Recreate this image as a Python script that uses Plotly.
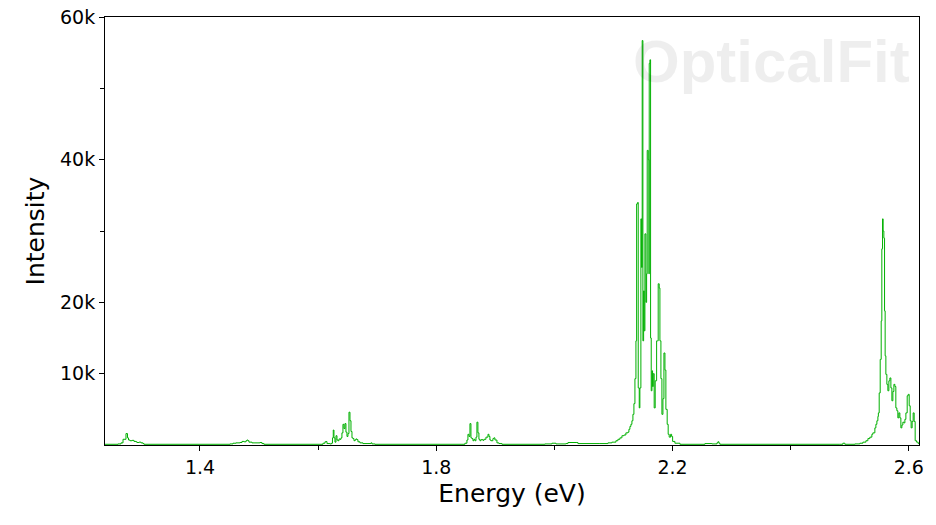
import plotly.graph_objects as go

# ---- data (energy in eV, intensity in counts) ----
start_ev = [1.2300]
start_counts = [100]

band1_ev = [1.2612, 1.2663, 1.2697, 1.2747, 1.2773, 1.2790, 1.2815, 1.2849, 1.2883,
            1.2917, 1.2934, 1.2967, 1.3001, 1.3035, 1.3052]
band1_counts = [150, 300, 800, 1600, 1000, 700, 600, 650, 500, 450, 350, 400, 300, 200, 100]

band2_ev = [1.4508, 1.4559, 1.4609, 1.4677, 1.4711, 1.4745, 1.4779, 1.4795, 1.4812,
            1.4829, 1.4880, 1.4931, 1.4982, 1.5015, 1.5049, 1.5083]
band2_counts = [150, 250, 300, 350, 500, 450, 600, 700, 600, 400, 300, 300, 300, 350, 200, 100]

band3_ev = [1.6031, 1.6082, 1.6116, 1.6133, 1.6150, 1.6200, 1.6226, 1.6243, 1.6256,
            1.6268, 1.6285, 1.6302, 1.6319, 1.6336, 1.6353, 1.6370, 1.6387, 1.6403,
            1.6420, 1.6437, 1.6454, 1.6471, 1.6488, 1.6505, 1.6522, 1.6539, 1.6556,
            1.6573, 1.6590, 1.6607, 1.6623, 1.6640, 1.6657, 1.6674, 1.6708, 1.6759,
            1.6844, 1.6894, 1.6911, 1.6962]
band3_counts = [100, 250, 450, 480, 200, 150, 250, 1000, 2100,
                1000, 400, 1300, 700, 600, 850, 800, 1000, 1700,
                2900, 2300, 3000, 1800, 1200, 1600, 4600, 3400, 1900,
                1000, 900, 600, 700, 850, 750, 450, 300, 200,
                200, 300, 150, 100]

band4_ev = [1.8435, 1.8485, 1.8519, 1.8536, 1.8553, 1.8570, 1.8587, 1.8604, 1.8621,
            1.8638, 1.8655, 1.8672, 1.8688, 1.8705, 1.8722, 1.8739, 1.8756, 1.8773,
            1.8790, 1.8807, 1.8841, 1.8875, 1.8892, 1.8908, 1.8925, 1.8959, 1.8976,
            1.8993, 1.9027, 1.9061, 1.9112]
band4_counts = [100, 250, 700, 1500, 1200, 3000, 1000, 900, 600,
                800, 600, 1100, 3200, 1700, 800, 600, 750, 750,
                650, 800, 1100, 1500, 1200, 700, 600, 900, 1000,
                700, 300, 200, 100]

band5_ev = [1.9839, 1.9958, 2.0026, 2.0195, 2.0229, 2.0381, 2.0398, 2.0770, 2.0906,
            2.0973, 2.1041, 2.1075, 2.1109, 2.1143, 2.1177, 2.1210, 2.1244, 2.1261,
            2.1278, 2.1295, 2.1312, 2.1329, 2.1346, 2.1363, 2.1380, 2.1392, 2.1409,
            2.1419, 2.1436, 2.1447, 2.1464, 2.1476, 2.1486, 2.1498, 2.1510, 2.1520,
            2.1532, 2.1549, 2.1561, 2.1571, 2.1588, 2.1600, 2.1605, 2.1617, 2.1628,
            2.1639, 2.1651, 2.1662, 2.1673, 2.1689, 2.1706, 2.1730, 2.1747, 2.1757,
            2.1774, 2.1786, 2.1803, 2.1820, 2.1837, 2.1854, 2.1871, 2.1887, 2.1909,
            2.1926, 2.1943, 2.1967, 2.1984, 2.2001, 2.2040, 2.2125]
band5_counts = [150, 250, 150, 200, 350, 350, 200, 200, 300,
                400, 600, 800, 1000, 1300, 1400, 1700, 1800, 2200,
                2600, 2900, 3400, 4300, 5800, 9300, 14600, 33800, 34000,
                8000, 5200, 8000, 31700, 24900, 56700, 14600, 21600, 16000,
                29600, 20000, 24000, 41300, 40000, 24000, 53500, 54000, 15000,
                7600, 10400, 8200, 10000, 5200, 9000, 14600, 14600, 22600,
                22000, 14600, 9300, 4300, 6500, 12900, 10500, 5000, 2900,
                1500, 1100, 1500, 1200, 500, 250, 100]

band6_ev = [2.2548, 2.2666, 2.2751, 2.2768, 2.2785, 2.2801]
band6_counts = [200, 150, 300, 450, 250, 100]

band7_ev = [2.4833, 2.4883, 2.4917, 2.5087, 2.5171, 2.5222, 2.5273, 2.5307, 2.5340,
            2.5374, 2.5391, 2.5425, 2.5442, 2.5459, 2.5476, 2.5484, 2.5498, 2.5515,
            2.5532, 2.5543, 2.5555, 2.5565, 2.5577, 2.5589, 2.5599, 2.5611, 2.5628,
            2.5645, 2.5662, 2.5679, 2.5696, 2.5713, 2.5730, 2.5747, 2.5764, 2.5780,
            2.5797, 2.5814, 2.5831, 2.5848, 2.5865, 2.5882, 2.5899, 2.5916, 2.5933,
            2.5950, 2.5972, 2.5989, 2.6006, 2.6023, 2.6039, 2.6056, 2.6073, 2.6090,
            2.6107, 2.6131, 2.6158, 2.6187]
band7_counts = [100, 250, 100, 150, 250, 400, 600, 900, 1100,
                1500, 1700, 2400, 2900, 3400, 4000, 4500, 7300, 12000,
                17400, 27500, 31700, 30000, 29000, 18800, 12500, 9900, 8500,
                7600, 9000, 9400, 8000, 6200, 7500, 8500, 8200, 5200,
                4800, 3800, 4500, 3800, 2400, 2800, 3200, 3100, 3600,
                4500, 6900, 7100, 5500, 3400, 2400, 3300, 4500, 3300,
                600, 400, 200, 150]

x_major_ticks = [1.4, 1.8, 2.2, 2.6]
x_major_labels = ["1.4", "1.8", "2.2", "2.6"]
x_minor_ticks = [1.6, 2.0, 2.4]
y_major_ticks = [10000, 20000, 40000, 60000]
y_major_labels = ["10k", "20k", "40k", "60k"]
y_minor_ticks = [30000, 50000]

energy = (start_ev + band1_ev + band2_ev + band3_ev + band4_ev
          + band5_ev + band6_ev + band7_ev)
intensity = (start_counts + band1_counts + band2_counts + band3_counts + band4_counts
             + band5_counts + band6_counts + band7_counts)

FONT = "DejaVu Sans"

fig = go.Figure()
fig.add_trace(go.Scatter(
    x=energy, y=intensity, mode="lines",
    line=dict(color="#00b000", width=1, shape="hv"),
    showlegend=False, hoverinfo="skip",
))

fig.add_annotation(
    text="<b>OpticalFit</b>", xref="paper", yref="paper",
    x=0.8194, y=0.897, xanchor="center", yanchor="middle",
    showarrow=False,
    font=dict(family="Liberation Sans", size=60, color="rgba(0,0,0,0.065)"),
)

axis_common = dict(
    showline=True, linecolor="black", linewidth=1, mirror=True,
    showgrid=False, zeroline=False, ticks="outside", ticklen=5,
    tickcolor="black", tickwidth=1,
    tickfont=dict(family=FONT, size=19, color="black"),
)

fig.update_xaxes(
    range=[1.2392, 2.6172], tickmode="array",
    tickvals=x_major_ticks, ticktext=x_major_labels,
    minor=dict(tickvals=x_minor_ticks, ticks="outside", ticklen=4,
               tickcolor="black", showgrid=False),
    title=dict(text="Energy (eV)", font=dict(family=FONT, size=25, color="black"),
               standoff=7),
    automargin=False,
    **axis_common,
)
fig.update_yaxes(
    range=[0, 60000], tickmode="array",
    tickvals=y_major_ticks, ticktext=y_major_labels,
    minor=dict(tickvals=y_minor_ticks, ticks="outside", ticklen=4,
               tickcolor="black", showgrid=False),
    title=dict(text="Intensity", font=dict(family=FONT, size=25, color="black"),
               standoff=8),
    automargin=False,
    **axis_common,
)

fig.update_layout(
    width=936, height=525,
    margin=dict(l=105, r=17, t=17, b=80),
    paper_bgcolor="white", plot_bgcolor="white",
)

fig.write_html("out.html", config={"displayModeBar": False},
               post_script="document.body.style.margin='0';document.body.style.padding='0';")
